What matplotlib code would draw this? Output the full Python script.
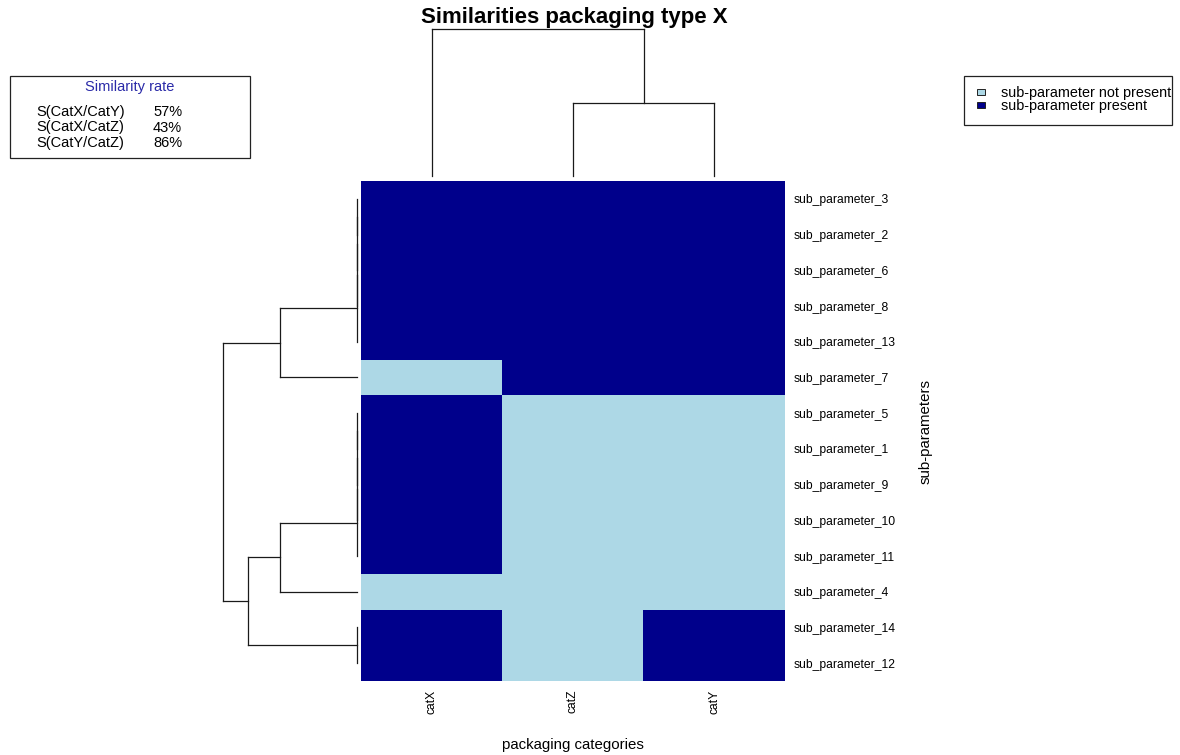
import numpy as np
import matplotlib
matplotlib.use("Agg")
import matplotlib.pyplot as plt
from matplotlib.colors import ListedColormap
from matplotlib.patches import Rectangle

plt.rcParams['font.family'] = ['Liberation Sans', 'DejaVu Sans']

W, H = 1180, 755

# --------------------------------------------
# Data (rows listed top to bottom as displayed)
# --------------------------------------------
row_labels = ["sub_parameter_3", "sub_parameter_2", "sub_parameter_6", "sub_parameter_8",
              "sub_parameter_13", "sub_parameter_7", "sub_parameter_5", "sub_parameter_1",
              "sub_parameter_9", "sub_parameter_10", "sub_parameter_11", "sub_parameter_4",
              "sub_parameter_14", "sub_parameter_12"]
col_labels = ["catX", "catZ", "catY"]

cat_x = [1, 1, 1, 1, 1, 0, 1, 1, 1, 1, 1, 0, 1, 1]
cat_z = [1, 1, 1, 1, 1, 1, 0, 0, 0, 0, 0, 0, 0, 0]
cat_y = [1, 1, 1, 1, 1, 1, 0, 0, 0, 0, 0, 0, 1, 1]

# dendrograms as (left, right, merge height); leaves are display indices
top_block = (((((0, 1, 0.0), 2, 0.0), 3, 0.0), 4, 0.0), 5, 1.0)
mid_block = (((((6, 7, 0.0), 8, 0.0), 9, 0.0), 10, 0.0), 11, 1.0)
row_tree = (top_block, (mid_block, (12, 13, 0.0), 1.41), 1.73)
col_tree = (0, (1, 2, 1.41), 2.83)

sim_pairs = ["S(CatX/CatY)", "S(CatX/CatZ)", "S(CatY/CatZ)"]
sim_rates = [57, 43, 86]

legend_labels = ["sub-parameter not present", "sub-parameter present"]
colors = ["#ADD8E6", "#00008B"]

presence = np.array([cat_x, cat_z, cat_y]).T


def walk(node, segs):
    # R-style rectangular dendrogram: node sits midway between its children
    if isinstance(node, int):
        return node, 0.0
    left, right, h = node
    pl, hl = walk(left, segs)
    pr, hr = walk(right, segs)
    segs += [((hl, pl), (h, pl)), ((hr, pr), (h, pr)), ((h, pl), (h, pr))]
    return (pl + pr) / 2, h


def px_axes(x0, y0, x1, y1):
    return fig.add_axes([x0 / W, 1 - y1 / H, (x1 - x0) / W, (y1 - y0) / H])


fig = plt.figure(figsize=(W / 100, H / 100), dpi=100)

# heatmap
hm = px_axes(361, 181, 785, 681)
hm.imshow(presence, cmap=ListedColormap(colors), vmin=0, vmax=1,
          aspect='auto', interpolation='nearest')
hm.yaxis.tick_right()
hm.set_yticks(range(len(row_labels)))
hm.set_yticklabels(row_labels, fontsize=8.7)
hm.set_xticks(range(len(col_labels)))
hm.set_xticklabels(col_labels, fontsize=8.7, rotation=90)
hm.tick_params(length=0, pad=6)
for s in hm.spines.values():
    s.set_visible(False)

line_kw = dict(color='#1a1a1a', lw=0.9, clip_on=False)

# row dendrogram
rd = px_axes(200, 181, 357.5, 681)
segs = []
walk(row_tree, segs)
for (h0, p0), (h1, p1) in segs:
    rd.plot([h0, h1], [p0, p1], **line_kw)
rd.set_ylim(len(row_labels) - 0.5, -0.5)
rd.set_xlim(157.5 / 77.5, 0)
rd.axis('off')

# column dendrogram
cd = px_axes(361, 20, 785, 176)
segs = []
walk(col_tree, segs)
for (h0, p0), (h1, p1) in segs:
    cd.plot([p0, p1], [h0, h1], **line_kw)
cd.set_xlim(-0.5, len(col_labels) - 0.5)
cd.set_ylim(0, 156 / 51.8)
cd.axis('off')

# overlay for title, labels and boxes
ov = fig.add_axes([0, 0, 1, 1], zorder=-1)
ov.set_xlim(0, W)
ov.set_ylim(H, 0)
ov.axis('off')

ov.text(574, 23.5, "Similarities packaging type X", ha='center', va='baseline',
        fontsize=16, fontweight='bold')
ov.text(573, 745, "packaging categories", ha='center', va='center', fontsize=10.8)
ov.text(926, 431, "sub-parameters", ha='center', va='center', fontsize=10.8,
        rotation=90)

# similarity box
ov.add_patch(Rectangle((10, 76), 240, 82, fill=False, lw=0.9, ec='#222222'))
ov.text(130, 91, "Similarity rate", ha='center', va='baseline', fontsize=10.5,
        color='#2a2aa8')
for i, (name, rate) in enumerate(zip(sim_pairs, sim_rates)):
    y = 116 + i * 15.5
    ov.text(36, y, name, ha='left', va='baseline', fontsize=10.5)
    ov.text(153, y, f"{rate}%", ha='left', va='baseline', fontsize=10.5)

# legend box
ov.add_patch(Rectangle((963.5, 76), 208.5, 49, fill=False, lw=0.9, ec='#222222'))
for i, (lab, c) in enumerate(zip(legend_labels, colors)):
    y = 97 + i * 13.3
    ov.add_patch(Rectangle((977, y - 8.3), 8, 6, fc=c, ec='#222222', lw=0.7))
    ov.text(1001, y, lab, ha='left', va='baseline', fontsize=10.4)

fig.savefig("out.png", dpi=100)
